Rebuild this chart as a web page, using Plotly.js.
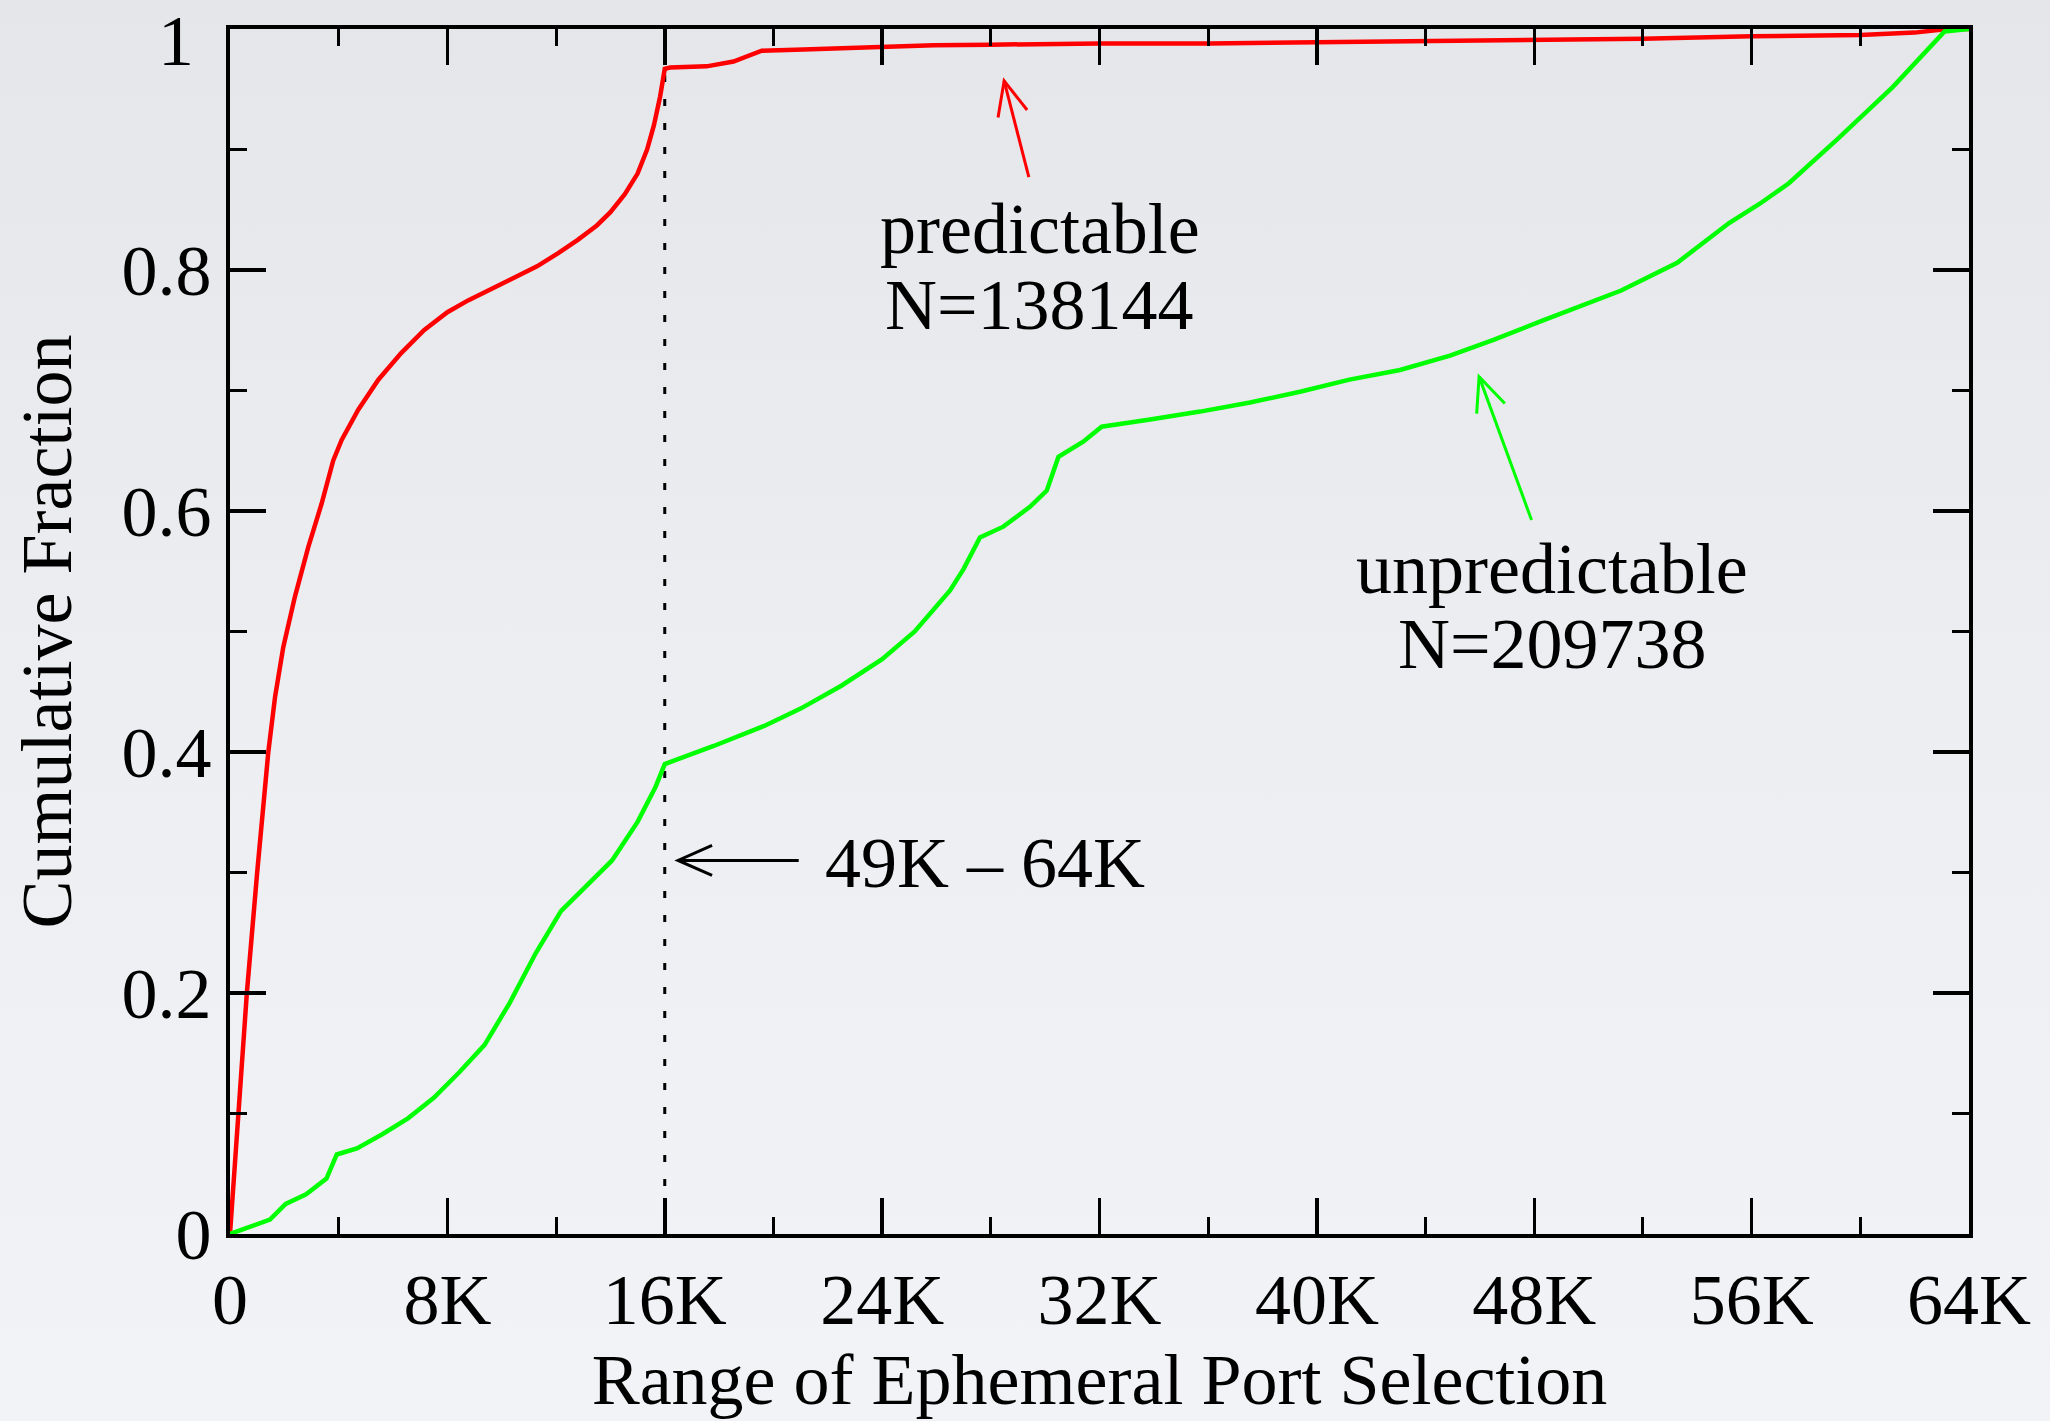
<!DOCTYPE html>
<html>
<head>
<meta charset="utf-8">
<script src="https://cdn.plot.ly/plotly-3.0.1.min.js"></script>
<style>
  html, body { margin: 0; padding: 0; }
  body { background: linear-gradient(to bottom, #e4e6ea 0%, #eceef1 50%, #f2f3f6 100%); width: 2050px; height: 1421px; overflow: hidden; }
  #chart { width: 2050px; height: 1421px; }
</style>
</head>
<body>
<div id="chart"></div>
<script>
// ---- data (x in thousands of ports, y = cumulative fraction) ----
const predX = [0, 0.3, 0.62, 1.0, 1.25, 1.41, 1.66, 1.96, 2.39, 2.88, 3.37, 3.8, 4.11, 4.72, 5.46, 6.3, 7.14, 8.0, 8.78, 9.6, 10.44, 11.3, 12.08, 12.8, 13.5, 14.0, 14.53, 15.0, 15.35, 15.6, 15.83, 16.0, 16.2, 17.54, 18.53, 19.14, 19.57, 21.1, 23.55, 25.9, 28, 32, 36, 40, 44, 48, 52, 56, 60, 62, 63.2, 64];
const predY = [0, 0.1, 0.2, 0.3, 0.36, 0.4, 0.446, 0.487, 0.529, 0.57, 0.606, 0.642, 0.659, 0.684, 0.709, 0.731, 0.75, 0.765, 0.775, 0.784, 0.793, 0.803, 0.814, 0.825, 0.837, 0.848, 0.863, 0.88, 0.9, 0.92, 0.944, 0.967, 0.968, 0.969, 0.973, 0.978, 0.982, 0.983, 0.985, 0.9865, 0.987, 0.988, 0.988, 0.989, 0.99, 0.991, 0.992, 0.994, 0.995, 0.997, 1.0, 1.0];

const unpredX = [0, 0.8, 1.47, 2.05, 2.8, 3.55, 3.93, 4.67, 5.62, 6.55, 7.5, 8.43, 9.37, 10.3, 11.25, 12.18, 13.13, 14.06, 15.0, 15.66, 16.0, 17.8, 19.7, 21.0, 22.5, 24.0, 25.2, 26.5, 27.0, 27.6, 28.46, 29.44, 30.06, 30.49, 31.4, 32.08, 33.86, 35.7, 37.54, 39.38, 41.2, 43.06, 44.9, 46.5, 48.3, 50, 51.2, 53.26, 55.17, 56.3, 57.37, 59.13, 61.2, 63.1, 64];
const unpredY = [0, 0.006, 0.012, 0.025, 0.033, 0.046, 0.066, 0.071, 0.083, 0.096, 0.113, 0.134, 0.157, 0.192, 0.233, 0.268, 0.289, 0.31, 0.342, 0.371, 0.39, 0.405, 0.422, 0.436, 0.455, 0.477, 0.5, 0.534, 0.552, 0.578, 0.587, 0.6035, 0.617, 0.645, 0.6575, 0.67, 0.676, 0.6825, 0.69, 0.699, 0.709, 0.717, 0.729, 0.742, 0.758, 0.773, 0.783, 0.806, 0.839, 0.855, 0.872, 0.908, 0.952, 0.998, 1.0];

// 16K boundary (49K - 64K range) marker line
const boundaryX = [16, 16];
const boundaryY = [0, 0.967];

const xTickVals = [0, 8, 16, 24, 32, 40, 48, 56, 64];
const xTickText = ['0', '8K', '16K', '24K', '32K', '40K', '48K', '56K', '64K'];
const yTickVals = [0, 0.2, 0.4, 0.6, 0.8, 1];
const yTickText = ['0', '0.2', '0.4', '0.6', '0.8', '1'];

// annotation arrows: head and tail points (data units) and colour
const arrowHeadX = [28.49, 45.97, 16.49];
const arrowHeadY = [0.957, 0.7115, 0.31];
const arrowTailX = [29.4, 47.9, 20.93];
const arrowTailY = [0.877, 0.5925, 0.31];
const arrowColors = ['#ff0000', '#00ff00', '#000000'];

const FONT = 'Liberation Serif, Times New Roman, serif';

const W = 2050, H = 1421;
const M = { l: 230, r: 81, t: 29, b: 187 };
const X_RANGE = [0, 64], Y_RANGE = [0, 1];
const pxPerX = (W - M.l - M.r) / (X_RANGE[1] - X_RANGE[0]);
const pxPerY = (H - M.t - M.b) / (Y_RANGE[1] - Y_RANGE[0]);

const traces = [
  { x: boundaryX, y: boundaryY, mode: 'lines', line: { color: '#000000', width: 3, dash: '7px,17px' }, hoverinfo: 'skip', showlegend: false },
  { x: predX, y: predY, mode: 'lines', name: 'predictable', line: { color: '#ff0000', width: 4.5 }, showlegend: false },
  { x: unpredX, y: unpredY, mode: 'lines', name: 'unpredictable', line: { color: '#00ff00', width: 4.5 }, showlegend: false }
];

// arrows as shapes: shaft in data units, open V head in pixel units anchored at the head point
const shapes = [];
const HEAD_LEN = 34, HEAD_HALF = 15;
for (let i = 0; i < arrowHeadX.length; i++) {
  const hx = arrowHeadX[i], hy = arrowHeadY[i], tx = arrowTailX[i], ty = arrowTailY[i];
  shapes.push({ type: 'line', xref: 'x', yref: 'y', x0: tx, y0: ty, x1: hx, y1: hy, line: { color: arrowColors[i], width: 3 } });
  const dx = (tx - hx) * pxPerX, dy = (ty - hy) * pxPerY;
  const len = Math.hypot(dx, dy);
  const bx = dx / len, by = dy / len;
  const px = -by, py = bx;
  const p1x = bx * HEAD_LEN + px * HEAD_HALF, p1y = by * HEAD_LEN + py * HEAD_HALF;
  const p2x = bx * HEAD_LEN - px * HEAD_HALF, p2y = by * HEAD_LEN - py * HEAD_HALF;
  shapes.push({
    type: 'path', xref: 'x', yref: 'y', xsizemode: 'pixel', ysizemode: 'pixel', xanchor: hx, yanchor: hy,
    path: `M ${p1x.toFixed(2)},${p1y.toFixed(2)} L 0,0 L ${p2x.toFixed(2)},${p2y.toFixed(2)}`,
    line: { color: arrowColors[i], width: 3 }, fillcolor: 'rgba(0,0,0,0)'
  });
}

// the top y label sits a little below its tick so that it stays inside the page
const lastY = yTickText.length - 1;
const yAxisText = yTickText.map((t, i) => (i === lastY ? '' : t));

const axisCommon = {
  showline: true, linewidth: 4, linecolor: '#000000', mirror: 'ticks',
  ticks: 'inside', ticklen: 36, tickwidth: 3.5, tickcolor: '#000000',
  showgrid: false, zeroline: false, fixedrange: true,
  tickfont: { family: FONT, size: 72, color: '#000000' }
};

const annFont = { family: FONT, size: 72, color: '#000000' };

const layout = {
  width: W, height: H,
  paper_bgcolor: 'rgba(0,0,0,0)', plot_bgcolor: 'rgba(0,0,0,0)',
  margin: { l: M.l, r: M.r, t: M.t, b: M.b, pad: 0 },
  font: { family: FONT, size: 72, color: '#000000' },
  showlegend: false,
  xaxis: Object.assign({}, axisCommon, {
    range: X_RANGE, tickmode: 'array', tickvals: xTickVals, ticktext: xTickText,
    minor: { ticks: 'inside', ticklen: 17, tickwidth: 3, tickcolor: '#000000', tickmode: 'linear', tick0: 0, dtick: 4, showgrid: false },
    title: { text: 'Range of Ephemeral Port Selection', font: annFont, standoff: 14 }
  }),
  yaxis: Object.assign({}, axisCommon, {
    range: Y_RANGE, tickmode: 'array', tickvals: yTickVals, ticktext: yAxisText,
    minor: { ticks: 'inside', ticklen: 17, tickwidth: 3, tickcolor: '#000000', tickmode: 'linear', tick0: 0, dtick: 0.1, showgrid: false },
    title: { text: 'Cumulative Fraction', font: annFont, standoff: 27 }
  }),
  shapes: shapes,
  annotations: [
    { x: 0, y: yTickVals[lastY], xref: 'paper', yref: 'y', text: yTickText[lastY], showarrow: false, xanchor: 'right', yanchor: 'middle', xshift: -34, yshift: -12, font: annFont },
    { x: 29.8, y: 0.834, xref: 'x', yref: 'y', text: 'predictable', showarrow: false, xanchor: 'center', yanchor: 'middle', font: annFont },
    { x: 29.8, y: 0.771, xref: 'x', yref: 'y', text: 'N=138144', showarrow: false, xanchor: 'center', yanchor: 'middle', font: annFont },
    { x: 48.67, y: 0.552, xref: 'x', yref: 'y', text: 'unpredictable', showarrow: false, xanchor: 'center', yanchor: 'middle', font: annFont },
    { x: 48.67, y: 0.4895, xref: 'x', yref: 'y', text: 'N=209738', showarrow: false, xanchor: 'center', yanchor: 'middle', font: annFont },
    { x: 21.83, y: 0.308, xref: 'x', yref: 'y', text: '49K \u2013 64K', showarrow: false, xanchor: 'left', yanchor: 'middle', font: annFont }
  ]
};

Plotly.newPlot('chart', traces, layout, { displayModeBar: false, staticPlot: true });
</script>
</body>
</html>
